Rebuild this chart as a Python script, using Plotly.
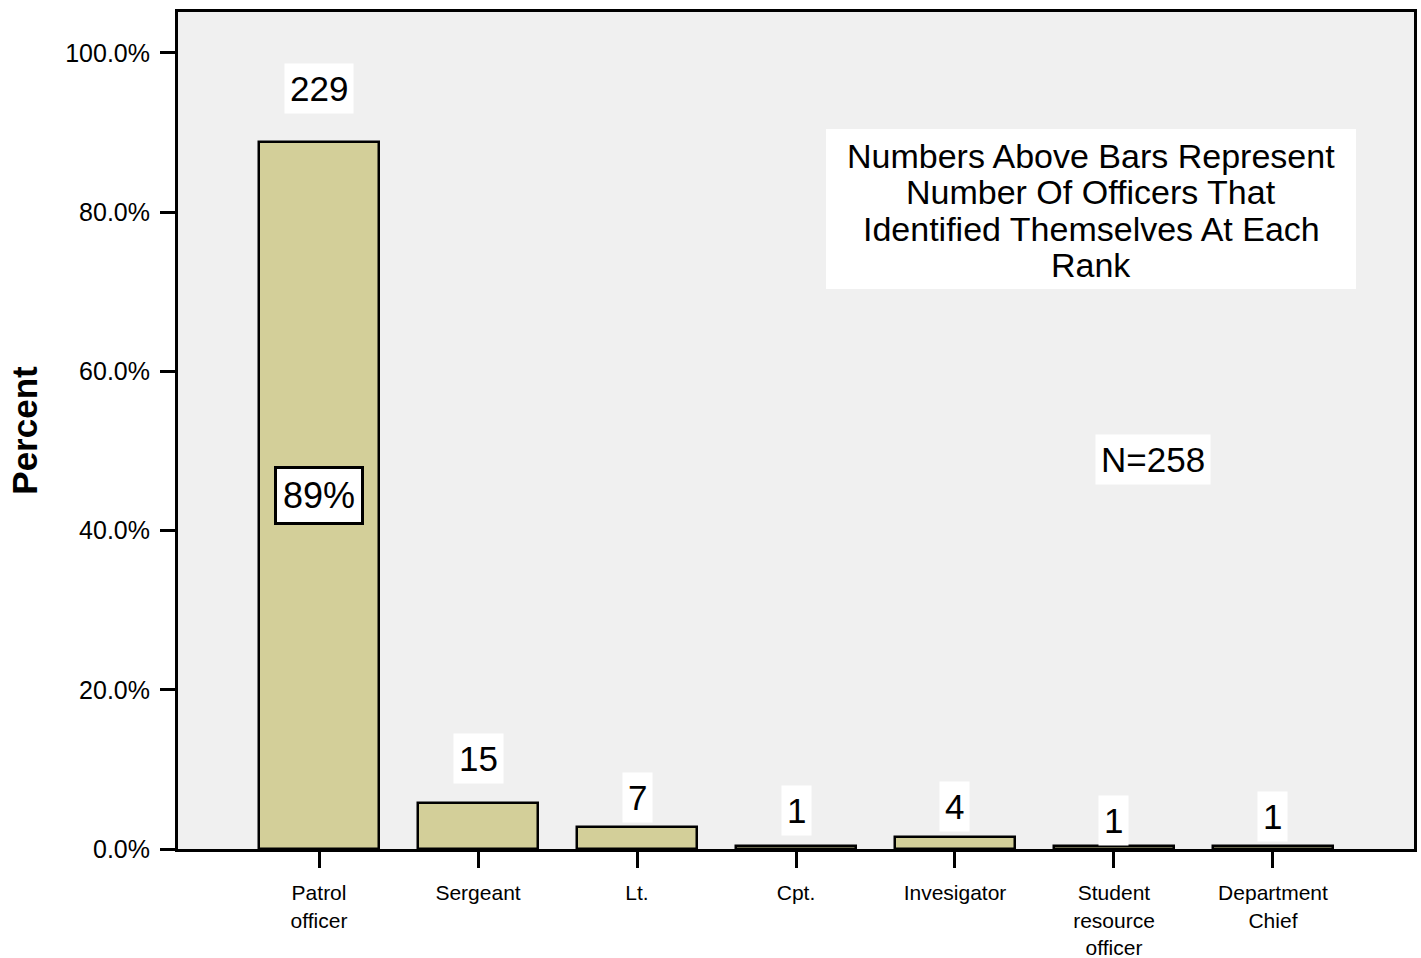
import plotly.graph_objects as go

categories = ["Patrol officer", "Sergeant", "Lt.", "Cpt.", "Invesigator",
              "Student resource officer", "Department Chief"]
tick_labels = ["Patrol<br>officer", "Sergeant", "Lt.", "Cpt.", "Invesigator",
               "Student<br>resource<br>officer", "Department<br>Chief"]
counts = [229, 15, 7, 1, 4, 1, 1]
total_n = 258
percents = [c / total_n * 100 for c in counts]
y_ticks = [0, 20, 40, 60, 80, 100]
y_tick_text = ["0.0%", "20.0%", "40.0%", "60.0%", "80.0%", "100.0%"]
note_lines = ["Numbers Above Bars Represent", "Number Of Officers That",
              "Identified Themselves At Each", "Rank"]
label_offsets = [54, 44, 30, 35, 30, 25, 29]

FONT = "Liberation Sans, Arial, Helvetica, sans-serif"

fig = go.Figure()
fig.add_trace(go.Bar(
    x=list(range(len(categories))), y=percents, width=0.755,
    marker=dict(color="#D3CF99", line=dict(color="black", width=2.5)),
    hoverinfo="skip", showlegend=False,
))

# count labels above bars
for i, (p, c, off) in enumerate(zip(percents, counts, label_offsets)):
    fig.add_annotation(x=i, y=p, text=str(c), showarrow=False, yanchor="middle",
                       xanchor="center", yshift=off,
                       font=dict(size=35, color="black", family=FONT),
                       bgcolor="white", borderpad=5)

# percentage label inside the tallest bar
fig.add_annotation(x=0, y=percents[0] / 2, text=f"{round(percents[0])}%", showarrow=False,
                   xanchor="center",
                   font=dict(size=36, color="black", family=FONT),
                   bgcolor="white", bordercolor="black", borderwidth=3, borderpad=6)

# note box
fig.add_shape(type="rect", xref="paper", yref="paper",
              x0=(826 - 178) / 1236, x1=(1356 - 178) / 1236,
              y0=(849 - 289) / 837, y1=(849 - 129) / 837,
              fillcolor="white", line=dict(width=0), layer="below")
line_px = [156, 192, 229, 265]
for txt, ypx in zip(note_lines, line_px):
    fig.add_annotation(xref="paper", yref="paper", x=(1091 - 178) / 1236,
                       y=(849 - ypx) / 837, text=txt, showarrow=False,
                       xanchor="center", yanchor="middle", borderpad=0,
                       font=dict(size=34, color="black", family=FONT))

fig.add_annotation(xref="paper", yref="paper", x=(1153 - 178) / 1236, y=(849 - 459) / 837,
                   text=f"N={total_n}", showarrow=False, xanchor="center", yanchor="middle",
                   font=dict(size=35, color="black", family=FONT),
                   bgcolor="white", borderpad=5)

fig.update_layout(
    width=1421, height=958,
    margin=dict(l=178, r=7, t=12, b=109),
    paper_bgcolor="white", plot_bgcolor="#F0F0F0",
    font=dict(family=FONT, color="black"),
    bargap=0,
)
fig.update_xaxes(
    range=[-0.887, 6.887], tickmode="array", tickvals=list(range(len(categories))),
    ticktext=tick_labels, ticks="outside", ticklen=16, tickwidth=3, tickcolor="black",
    showline=True, linecolor="black", linewidth=3, mirror=True,
    showgrid=False, zeroline=False, tickfont=dict(size=21, family=FONT, color="black"),
    ticklabelstandoff=7, automargin=False,
    fixedrange=True,
)
fig.update_yaxes(
    range=[0, 105.15], tickmode="array", tickvals=y_ticks, ticktext=y_tick_text,
    ticks="outside", ticklen=15, tickwidth=3, tickcolor="black",
    showline=True, linecolor="black", linewidth=3, mirror=True,
    showgrid=False, zeroline=False, tickfont=dict(size=25, family=FONT, color="black"),
    ticklabelstandoff=5, automargin=False,
    title=dict(text="<b>Percent</b>", font=dict(size=35, family=FONT, color="black"),
               standoff=17),
    fixedrange=True,
)

fig.write_html("out.html", config={"displayModeBar": False},
               post_script="document.body.style.margin='0';")
